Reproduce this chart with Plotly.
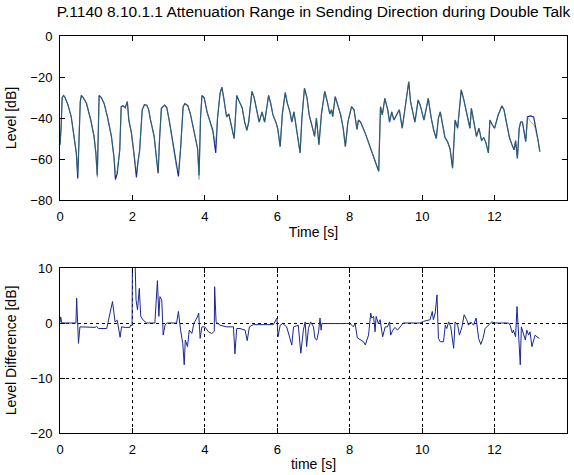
import plotly.graph_objects as go

# ---------------- data ----------------
t_level = [0.00, 0.03, 0.06, 0.10, 0.14, 0.22, 0.31, 0.39, 0.45, 0.49, 0.53, 0.56, 0.59, 0.64,
           0.73, 0.85, 0.94, 0.99, 1.03, 1.05, 1.08, 1.14, 1.22, 1.31, 1.42, 1.49, 1.53, 1.58,
           1.65, 1.69, 1.74, 1.80, 1.86, 1.90, 1.97, 2.04, 2.11, 2.15, 2.20, 2.27, 2.33, 2.40,
           2.45, 2.50, 2.60, 2.66, 2.71, 2.75, 2.80, 2.89, 2.95, 3.03, 3.12, 3.21, 3.27, 3.33,
           3.40, 3.45, 3.53, 3.60, 3.70, 3.80, 3.84, 3.88, 3.92, 3.98, 4.06, 4.14, 4.22, 4.30,
           4.35, 4.42, 4.47, 4.52, 4.60, 4.66, 4.74, 4.81, 4.86, 4.88, 4.95, 5.03, 5.10, 5.16,
           5.21, 5.26, 5.30, 5.36, 5.42, 5.50, 5.58, 5.65, 5.71, 5.76, 5.82, 5.88, 5.96, 6.01,
           6.08, 6.14, 6.22, 6.28, 6.35, 6.40, 6.46, 6.55, 6.63, 6.68, 6.75, 6.82, 6.88, 6.96,
           7.03, 7.08, 7.15, 7.22, 7.31, 7.38, 7.45, 7.50, 7.53, 7.60, 7.68, 7.75, 7.82, 7.88,
           7.95, 8.05, 8.12, 8.20, 8.24, 8.30, 8.43, 8.57, 8.71, 8.80, 8.85, 8.90, 8.97, 9.05,
           9.10, 9.16, 9.22, 9.30, 9.37, 9.45, 9.55, 9.63, 9.68, 9.75, 9.80, 9.89, 9.95, 10.05,
           10.12, 10.17, 10.25, 10.32, 10.39, 10.45, 10.50, 10.56, 10.63, 10.70, 10.77, 10.84,
           10.88, 10.91, 10.98, 11.03, 11.08, 11.15, 11.24, 11.32, 11.36, 11.43, 11.50, 11.57,
           11.64, 11.70, 11.76, 11.83, 11.87, 11.94, 12.00, 12.10, 12.20, 12.26, 12.35, 12.41,
           12.48, 12.54, 12.58, 12.63, 12.68, 12.72, 12.77, 12.81, 12.86, 12.91, 13.00, 13.08,
           13.12, 13.20, 13.25]

level_blue = [-53, -45, -30, -29, -30, -33.6, -39.4, -49, -57, -69.5, -50, -32, -29, -30,
              -32.8, -41, -49, -57, -68, -45, -29, -30, -33, -39.4, -49, -59, -70, -67,
              -55.6, -34.5, -34, -35, -32, -41, -47, -57, -69, -62, -55.6, -36, -33.5, -33.8,
              -36, -41, -49, -59, -67, -50, -35.3, -33.7, -35, -42.6, -52.4, -63.7, -68.5, -55,
              -34.5, -33, -34, -38, -46, -55, -68, -40, -29, -30, -37, -42, -46, -57,
              -40, -28, -25, -30, -39.5, -38, -44, -50, -35, -29, -32, -35, -42, -46,
              -42, -32, -27, -30, -35, -42, -37, -42, -35, -29, -33, -38.5, -42, -45,
              -54, -38, -27.6, -33, -37, -42, -37, -47, -57, -40, -25.5, -30, -38.5, -44,
              -49, -40, -53, -38, -27, -32, -38, -36, -39.4, -29.6, -34, -38.5, -45, -54,
              -42, -34.5, -36, -45.6, -41, -42, -47.5, -54.6, -61, -66, -34.5, -38.5, -30.4, -36,
              -42, -37, -41, -38, -36, -45, -33, -22.3, -32, -38.5, -42, -31.2, -34, -41,
              -35, -30.4, -40, -46, -50, -40, -37, -43.4, -49.5, -51.5, -55, -64.5,
              -49, -41, -45, -35, -26.3, -31, -38.5, -45, -35.3, -41.5, -49, -45,
              -51, -49.5, -52, -57, -41, -43.4, -45, -38.5, -34.1, -36, -45, -49.5,
              -53, -55.6, -51, -59.7, -45, -42, -42, -47, -51.5, -39.4, -39, -39.5,
              -43, -50.8, -56.4]

level_green = [-53, -45, -30, -29, -30, -33.6, -39.4, -49, -57, -67, -50, -32, -29, -30,
               -32.8, -41, -49, -57, -69, -45, -29, -30, -33, -39.4, -49, -59, -67, -66,
               -55.6, -34.5, -34, -35, -32, -41, -47, -57, -66, -62, -55.6, -36, -33.5, -33.8,
               -36, -41, -49, -59, -65, -50, -35.3, -33.7, -35, -42.6, -52.4, -63.7, -66, -55,
               -34.5, -33, -34, -38, -46, -55, -70, -40, -29, -30, -37, -42, -46, -52,
               -40, -28, -25, -30, -39.5, -38, -44, -50, -35, -29, -32, -35, -42, -46,
               -42, -32, -27, -30, -35, -42, -37, -42, -35, -29, -33, -38.5, -42, -45,
               -54, -38, -27.6, -33, -37, -42, -37, -47, -57, -40, -25.5, -30, -38.5, -44,
               -49, -40, -53, -38, -27, -32, -38, -36, -39.4, -29.6, -34, -38.5, -45, -54,
               -42, -34.5, -36, -45.6, -41, -42, -47.5, -54.6, -61, -66, -34.5, -38.5, -30.4, -36,
               -42, -37, -41, -38, -36, -45, -33, -22.3, -32, -38.5, -42, -31.2, -34, -41,
               -35, -30.4, -40, -46, -50, -40, -37, -43.4, -49.5, -51.5, -55, -64.5,
               -49, -41, -45, -35, -26.3, -31, -38.5, -45, -35.3, -41.5, -49, -45,
               -51, -49.5, -52, -57, -41, -43.4, -45, -38.5, -34.1, -36, -45, -49.5,
               -53, -55.6, -51, -59.7, -45, -42, -42, -47, -51.5, -39.4, -42, -43,
               -45, -50.8, -56.4]

t_diff = [0.00, 0.02, 0.05, 0.44, 0.46, 0.48, 0.51, 0.55, 0.97, 1.01, 1.06, 1.29, 1.38, 1.45,
          1.52, 1.58, 1.66, 1.70, 1.80, 1.93, 1.95, 1.99, 2.00, 2.07, 2.10, 2.14, 2.19, 2.23,
          2.30, 2.39, 2.62, 2.69, 2.73, 2.76, 2.81, 2.85, 2.90, 2.95, 3.22, 3.27, 3.33, 3.39,
          3.43, 3.46, 3.52, 3.57, 3.64, 3.70, 3.78, 3.83, 3.87, 3.92, 4.00, 4.10, 4.19, 4.26,
          4.27, 4.31, 4.42, 4.60, 4.79, 4.83, 4.88, 4.97, 5.11, 5.17, 5.23, 5.34, 5.89, 5.99,
          6.02, 6.08, 6.15, 6.26, 6.40, 6.45, 6.58, 6.65, 6.72, 6.77, 6.81, 6.86, 6.92, 7.00,
          7.04, 7.09, 7.14, 7.18, 7.21, 7.23, 7.92, 8.01, 8.10, 8.15, 8.21, 8.29, 8.38, 8.43,
          8.52, 8.58, 8.61, 8.66, 8.70, 8.73, 8.79, 8.84, 8.91, 8.98, 9.04, 9.10, 9.13, 9.19,
          9.25, 9.32, 9.39, 9.48, 9.94, 10.04, 10.22, 10.28, 10.31, 10.36, 10.41, 10.43, 10.45,
          10.50, 10.59, 10.64, 10.68, 10.73, 10.79, 10.87, 10.91, 10.98, 11.03, 11.10, 11.16,
          11.23, 11.28, 11.34, 11.42, 11.49, 11.56, 11.62, 11.68, 11.74, 11.83, 11.92, 12.02,
          12.39, 12.43, 12.49, 12.52, 12.58, 12.62, 12.66, 12.71, 12.74, 12.80, 12.85, 12.89,
          12.94, 12.98, 13.03, 13.08, 13.12, 13.17, 13.24]

level_diff = [0.1, 1.1, 0.0, 0.0, 4.5, 0.5, -3.7, -0.7, -0.8, -0.6, -1.0, -1.0, 1.8, 3.9,
              0.2, 0.5, -2.6, -0.7, -0.8, -0.8, -0.4, -0.5, 12.0, 12.0, 4.2, 2.4, 6.3, 1.2,
              0.5, 0.0, 0.0, 7.7, 1.2, 4.8, 4.2, -2.2, -0.4, 0.0, 0.0, 2.1, -1.3, -3.7,
              -7.6, -3.1, -4.3, -1.3, -1.9, 0.0, 0.9, 1.8, -2.8, -0.7, -0.7, -1.6, -1.9, -1.5,
              6.6, 0.2, -0.4, -0.7, -0.7, -5.6, -1.0, -1.0, -1.3, -3.2, -0.7, -0.3, -0.3, 0.9,
              -2.5, -0.4, -0.1, -0.7, -4.0, -0.7, -0.4, -5.5, -1.3, 0.2, -4.3, -1.0, 0.2, -0.7,
              -2.8, -3.1, -1.6, 0.9, -1.3, -0.1, -0.1, -0.1, -0.7, -0.1, -2.7, -3.1, -3.4, -4.0,
              -2.2, 1.8, 0.9, 1.2, -1.6, 1.2, -0.1, 0.6, -2.5, -0.7, -0.7, 0.2, -2.2, -1.3,
              -0.8, -1.3, -0.8, 0.0, 0.0, 0.3, 0.6, 2.1, 0.6, 1.8, 5.1, 1.2, -2.8,
              -3.4, -3.4, -0.4, -1.0, 0.2, -0.7, -4.6, 0.2, -0.4, -2.2, -0.7, 1.5,
              0.6, -0.4, 0.2, -0.4, 0.9, -2.8, -3.9, -2.8, -1.0, -0.4, 0.2, 0.0,
              0.0, -0.4, -1.8, -1.3, -2.5, 3.0, -1.3, -7.6, -0.7, -1.9, -3.1, -1.3,
              -2.2, -1.6, -4.3, -3.1, -2.2, -2.5, -2.8]

x_ticks = [0, 2, 4, 6, 8, 10, 12, 14]
top_y_ticks = [0, -20, -40, -60, -80]
bottom_y_ticks = [10, 0, -10, -20]

# ---------------- figure ----------------
BLUE = "#1a2890"
GREEN = "#3f9250"
FONT = "Liberation Sans, Arial, sans-serif"

fig = go.Figure()
fig.add_trace(go.Scatter(x=t_level, y=level_blue, mode="lines",
                         line=dict(color=BLUE, width=1.2), xaxis="x", yaxis="y",
                         showlegend=False, hoverinfo="skip"))
fig.add_trace(go.Scatter(x=t_level, y=level_green, mode="lines",
                         line=dict(color=GREEN, width=1), xaxis="x", yaxis="y",
                         opacity=0.55, showlegend=False, hoverinfo="skip"))
fig.add_trace(go.Scatter(x=t_diff, y=level_diff, mode="lines",
                         line=dict(color=BLUE, width=1), xaxis="x2", yaxis="y2",
                         showlegend=False, hoverinfo="skip"))

axis_common = dict(showline=True, linecolor="black", linewidth=1, mirror="ticks",
                   ticks="inside", ticklen=5, tickcolor="black", zeroline=False,
                   tickfont=dict(size=13, color="black", family=FONT),
                   ticklabelstandoff=4)

H_PLOT = 475 - 36 - 42
fig.update_layout(
    width=574, height=475,
    margin=dict(l=60, r=7, t=36, b=42),
    paper_bgcolor="white", plot_bgcolor="white",
    font=dict(family=FONT, size=13, color="black"),
    title=dict(text="P.1140 8.10.1.1 Attenuation Range in Sending Direction during Double Talk",
               x=0.5, xanchor="center", xref="paper", y=1 - 12 / 475,
               yanchor="middle", font=dict(size=15.5, color="black", family=FONT)),
    xaxis=dict(domain=[0, 1], range=[0, 14], tickvals=x_ticks, anchor="y", showgrid=False,
               title=dict(text="Time [s]", standoff=4, font=dict(size=14)), **axis_common),
    yaxis=dict(domain=[(H_PLOT - 164) / H_PLOT, 1], range=[-80, 0], tickvals=top_y_ticks,
               anchor="x", showgrid=False,
               title=dict(text="Level [dB]", standoff=10, font=dict(size=14)), **axis_common),
    xaxis2=dict(domain=[0, 1], range=[0, 14], tickvals=x_ticks, anchor="y2",
                showgrid=True, gridcolor="black", griddash="dot", gridwidth=1,
                title=dict(text="time [s]", standoff=3, font=dict(size=14)), **axis_common),
    yaxis2=dict(domain=[0, 165 / H_PLOT], range=[-20, 10], tickvals=bottom_y_ticks,
                anchor="x2", showgrid=True, gridcolor="black", griddash="dot", gridwidth=1,
                title=dict(text="Level Difference [dB]", standoff=10, font=dict(size=14)),
                **axis_common),
)

fig.write_html("out.html")
